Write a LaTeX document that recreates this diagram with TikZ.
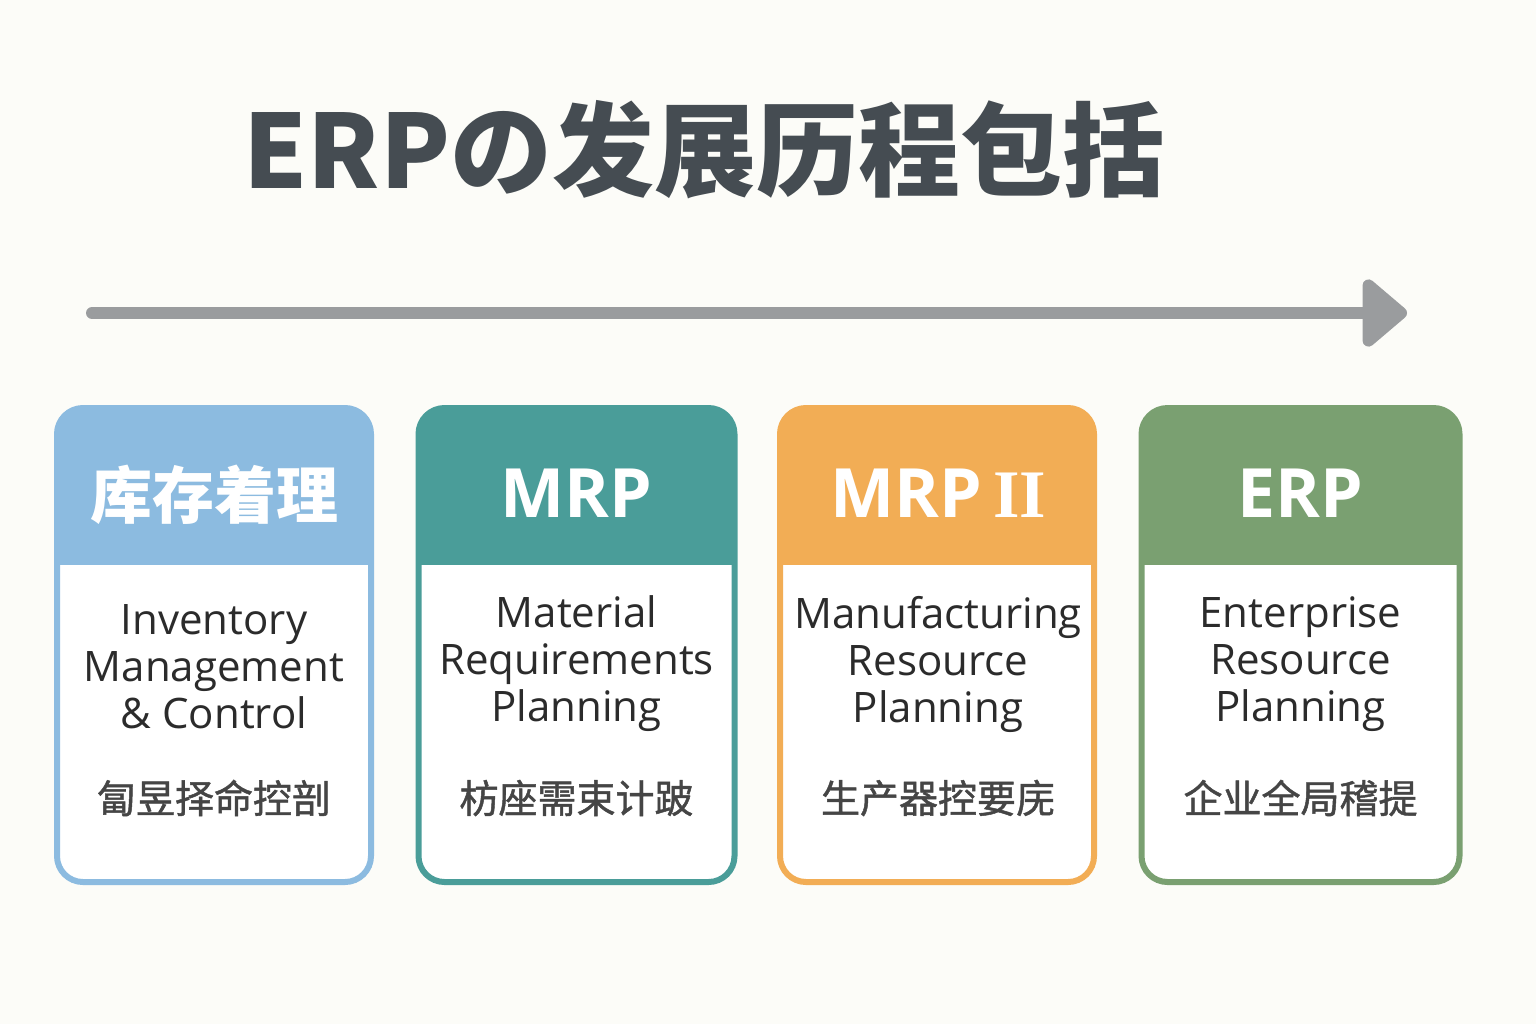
\documentclass[tikz,border=0pt]{standalone}
\usepackage{fontspec}
\setmainfont{Open Sans}
\newfontfamily\cjk{Noto Sans CJK SC}
\newfontfamily\cjkmid[FakeBold=1.2]{Noto Sans CJK SC}
\newfontfamily\romannum{Liberation Serif}
\usetikzlibrary{arrows.meta}

\definecolor{bgpaper}{HTML}{FCFCF8}
\definecolor{linegray}{HTML}{9A9C9E}
\definecolor{titlegray}{HTML}{454C52}
\definecolor{bodyink}{HTML}{2B2B2B}
\definecolor{zhink}{HTML}{454545}
\definecolor{cardblue}{HTML}{8CBBE0}
\definecolor{cardteal}{HTML}{4A9D99}
\definecolor{cardorange}{HTML}{F2AD55}
\definecolor{cardgreen}{HTML}{7AA071}

\tikzset{
  cardhead/.style={text=white, font=\fontsize{34}{34}\selectfont\bfseries},
  cardbody/.style={text=bodyink, align=center, font=\fontsize{21}{23.5}\selectfont},
  cardzh/.style={text=zhink, font=\cjkmid\fontsize{19.5}{19.5}\selectfont},
}

\begin{document}
\begin{tikzpicture}[x=0.5pt, y=-0.5pt]

\def\xstep{361.5}

% page
\fill[bgpaper] (0,0) rectangle (1536,1024);
\useasboundingbox (0,0) rectangle (1536,1024);

% title
\node[text=titlegray, font=\cjk\bfseries\fontsize{51}{51}\selectfont] (title) at (704,150) {ERPの发展历程包括};

% timeline arrow
\coordinate (tlstart) at (92,313);
\coordinate (tlend) at (1407,313);
\draw[linegray, line width=6pt, line cap=round,
      -{Triangle[length=24pt, width=39pt, round]}] (tlstart) -- (tlend);

% BLOCK 1
\begin{scope}[shift={(55+0*\xstep,0)}]
  % card frame and coloured head
  \begin{scope}
    \clip[rounded corners=13pt] (2,408) rectangle (316,882);
    \fill[white] (2,408) rectangle (316,882);
    \fill[cardblue] (2,408) rectangle (316,565);
  \end{scope}
  \draw[cardblue, line width=3pt, rounded corners=13pt] (2,408) rectangle (316,882);

  %texts
  \node[cardhead, font=\cjk\bfseries\fontsize{31}{31}\selectfont] (headA) at (159,495) {库存着理};
  \node[cardbody] (bodyA) at (159,667) {Inventory\\Management\\\& Control};
  \node[cardzh] (zhA) at (159,798) {匐昱择命控剖};
\end{scope}

% BLOCK 2
\begin{scope}[shift={(55+1*\xstep,0)}]
  \begin{scope}
    \clip[rounded corners=13pt] (2,408) rectangle (318,882);
    \fill[white] (2,408) rectangle (318,882);
    \fill[cardteal] (2,408) rectangle (318,565);
  \end{scope}
  \draw[cardteal, line width=3pt, rounded corners=13pt] (2,408) rectangle (318,882);

  %texts
  \node[cardhead] (headB) at (160,493) {MRP};
  \node[cardbody] (bodyB) at (160,664) {Material\\Requirements\\Planning};
  \node[cardzh] (zhB) at (160,798) {枋座需束计跛};
\end{scope}

% BLOCK 3
\begin{scope}[shift={(55+2*\xstep,0)}]
  \begin{scope}
    \clip[rounded corners=13pt] (2,408) rectangle (316,882);
    \fill[white] (2,408) rectangle (316,882);
    \fill[cardorange] (2,408) rectangle (316,565);
  \end{scope}
  \draw[cardorange, line width=3pt, rounded corners=13pt] (2,408) rectangle (316,882);

  %texts
  \node[cardhead] (headC) at (160,493) {MRP\,{\romannum\bfseries II}};
  \node[cardbody] (bodyC) at (160,664) {Manufacturing\\Resource\\Planning};
  \node[cardzh] (zhC) at (160,798) {生产器控要庑};
\end{scope}

% BLOCK 4
\begin{scope}[shift={(55+3*\xstep,0)}]
  \begin{scope}
    \clip[rounded corners=13pt] (2,408) rectangle (320,882);
    \fill[white] (2,408) rectangle (320,882);
    \fill[cardgreen] (2,408) rectangle (320,565);
  \end{scope}
  \draw[cardgreen, line width=3pt, rounded corners=13pt] (2,408) rectangle (320,882);

  %texts
  \node[cardhead] (headD) at (161,493) {ERP};
  \node[cardbody] (bodyD) at (161,664) {Enterprise\\Resource\\Planning};
  \node[cardzh] (zhD) at (161,798) {企业全局稽提};
\end{scope}

\end{tikzpicture}
\end{document}
